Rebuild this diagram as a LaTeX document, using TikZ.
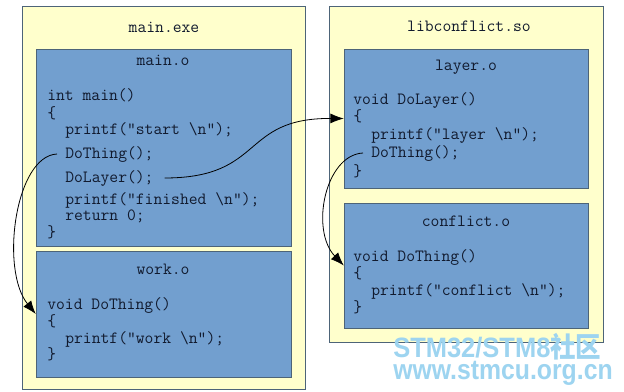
\documentclass[tikz,border=0pt]{standalone}
\usepackage{fontspec}
\newfontfamily\marksans{Liberation Sans}
\newfontfamily\markcjk{Noto Sans CJK SC}
\usepackage{xcolor}
\usepackage{graphicx}
\usetikzlibrary{arrows.meta,positioning,fit}
\definecolor{exefill}{HTML}{FFFFCC}
\definecolor{objfill}{HTML}{729FCF}
\definecolor{boxline}{HTML}{4D6478}
\definecolor{codeink}{HTML}{111A2E}
\definecolor{markblue}{HTML}{9DD4F0}

\begin{document}
\begin{tikzpicture}[x=0.75pt,y=-0.75pt,
  exebox/.style={draw=boxline,fill=exefill,inner sep=0pt},
  objbox/.style={draw=boxline,fill=objfill,inner sep=0pt},
  code/.style={anchor=west,inner sep=0pt,text height=8pt,text depth=2pt,
    font=\ttfamily\fontsize{12.86}{14}\selectfont,text=codeink},
  title/.style={code,anchor=center},
  stamp/.style={anchor=base west,inner sep=0pt,text=markblue},
  call/.style={-{Latex[length=10pt,width=7.5pt]},line width=0.6pt}]
  \useasboundingbox (0,0) rectangle (624,392);
  \fill[white] (0,0) rectangle (624,392);
  % the executable and its objects
  \node[exebox,fit={(22,6) (305,389)}] (mainexe) {};
  \node[title] (mainexename) at (164,29) {main.exe};
  \node[objbox,fit={(36,49) (291,246)}] (maino) {};
  \node[title] (mainoname) at (163,62) {main.o};
  \node[code] (m1) at (47,97) {int main()};
  \node[code] (m2) at (47,115) {\{};
  \node[code] (m3) at (65,131) {printf("start \textbackslash n");};
  \node[code] (mthing) at (65,154) {DoThing();};
  \node[code] (mlayer) at (65,178) {DoLayer();};
  \node[code] (m4) at (65,200) {printf("finished \textbackslash n");};
  \node[code] (m5) at (65,216) {return 0;};
  \node[code] (m6) at (47,233) {\}};
  \node[objbox,fit={(36,251) (291,377)}] (worko) {};
  \node[title] (workoname) at (163,270) {work.o};
  \node[code] (w1) at (47,305) {void DoThing()};
  \node[code] (w2) at (47,322) {\{};
  \node[code] (w3) at (65,339) {printf("work \textbackslash n");};
  \node[code] (w4) at (47,355) {\}};
  % the shared library
  \node[exebox,fit={(329,6) (603,342)}] (libso) {};
  \node[title] (libsoname) at (469,28) {libconflict.so};
  \node[objbox,fit={(344,49) (588,188)}] (layero) {};
  \node[title] (layeroname) at (466,67) {layer.o};
  \node[code] (l1) at (353,101) {void DoLayer()};
  \node[code] (l2) at (353,118) {\{};
  \node[code] (l3) at (371,136) {printf("layer \textbackslash n");};
  \node[code] (lthing) at (371,153) {DoThing();};
  \node[code] (l4) at (353,172) {\}};
  \node[objbox,fit={(344,203) (588,328)}] (conflicto) {};
  \node[title] (conflictoname) at (466,222) {conflict.o};
  \node[code] (c1) at (353,257) {void DoThing()};
  \node[code] (c2) at (353,274) {\{};
  \node[code] (c3) at (371,291) {printf("conflict \textbackslash n");};
  \node[code] (c4) at (353,308) {\}};
  % calls
  \draw[call] ([xshift=-6pt]mthing.west) .. controls (15,156) and (0,270) .. (worko.west);
  \draw[call] ([xshift=8pt]mlayer.east) .. controls (265,178) and (240,118) .. (layero.west);
  \draw[call] ([xshift=-6pt]lthing.west) .. controls (325,155) and (310,230) .. (conflicto.west);
  % watermark
  \node[stamp,font=\marksans\bfseries\fontsize{21}{22}\selectfont] (markname) at (393,357)
    {\scalebox{0.91}[1]{STM32/STM8{\markcjk\raisebox{0pt}[\height][0pt]{社区}}}};
  \node[stamp,font=\marksans\bfseries\fontsize{21}{22}\selectfont] (markurl) at (393,379)
    {\scalebox{0.885}[1]{www.stmcu.org.cn}};
\end{tikzpicture}
\end{document}
